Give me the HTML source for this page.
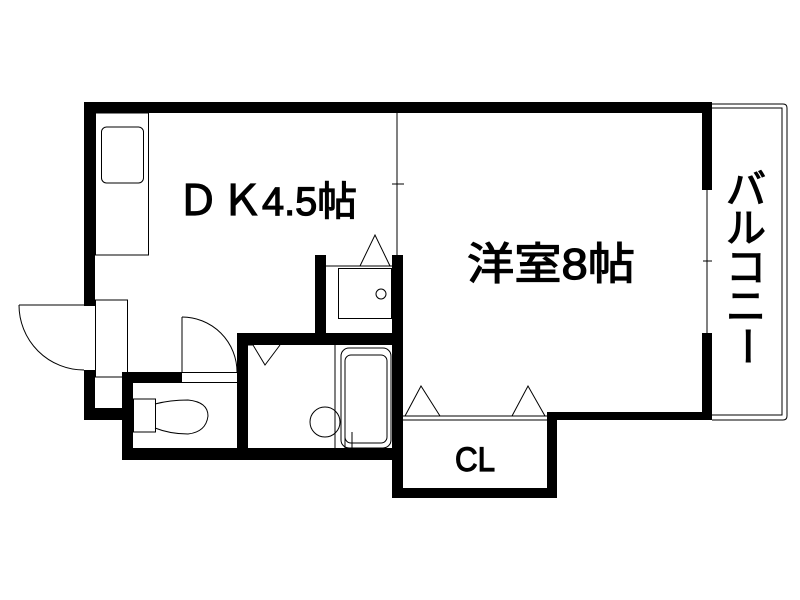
<!DOCTYPE html>
<html><head><meta charset="utf-8"><style>
html,body{margin:0;padding:0;background:#fff;}
svg{display:block;}
text{font-family:"Liberation Sans","Noto Sans CJK JP",sans-serif;fill:#000;stroke:#000;stroke-width:1.2;}
</style></head><body>
<svg width="800" height="600" viewBox="0 0 800 600" xmlns="http://www.w3.org/2000/svg">
<g fill="#000">
<rect x="84" y="102" width="628" height="11"/>
<rect x="84" y="102" width="11" height="204"/>
<rect x="84" y="370" width="11" height="50"/>
<rect x="84" y="408" width="49" height="12"/>
<rect x="122" y="372" width="11" height="88"/>
<rect x="122" y="372" width="60" height="11"/>
<rect x="122" y="448" width="281" height="12"/>
<rect x="237" y="333" width="11" height="127"/>
<rect x="237" y="333" width="166" height="12"/>
<rect x="315" y="255" width="11" height="90"/>
<rect x="392" y="255" width="11" height="243"/>
<rect x="702" y="102" width="10" height="88"/>
<rect x="702" y="333" width="10" height="87"/>
<rect x="547" y="412" width="165" height="8"/>
<rect x="392" y="488" width="165" height="10"/>
<rect x="547" y="412" width="10" height="86"/>
</g>
<g fill="none" stroke="#000" stroke-width="1">
<path d="M712 104 H783 Q787 104 787 108 V416 Q787 420 783 420 H712"/>
<path d="M712 108 H782 V415 H712"/>
<line x1="707" y1="190" x2="707" y2="333"/>
<line x1="703" y1="261" x2="712" y2="261"/>
<line x1="397" y1="113" x2="397" y2="255"/>
<line x1="392" y1="184" x2="404" y2="184"/>
<rect x="95.5" y="113" width="53" height="142"/>
<rect x="101.5" y="127" width="42" height="56" rx="5"/>
<line x1="19" y1="305" x2="84" y2="305"/>
<path d="M19 305 A65 65 0 0 0 84 370"/>
<rect x="95.5" y="300" width="32" height="77"/>
<line x1="95" y1="377" x2="122" y2="377"/>
<line x1="182" y1="317" x2="182" y2="372"/>
<path d="M182 317 A55 55 0 0 1 237 372"/>
<line x1="182" y1="372.5" x2="237" y2="372.5"/>
<line x1="182" y1="382.5" x2="237" y2="382.5"/>
<rect x="133.5" y="399" width="22" height="33"/>
<path d="M155 404 Q170 400 188 400 Q208 402 208 416 Q206 432 188 434 Q170 434 155 428"/>
<path d="M248 345 L253 345 L265 365 L280 345"/>
<line x1="335" y1="345" x2="335" y2="448"/>
<rect x="341" y="348" width="50" height="100" rx="8"/>
<rect x="345" y="355" width="42" height="88" rx="6"/>
<circle cx="325" cy="422" r="15"/>
<line x1="345" y1="432" x2="345" y2="448"/>
<line x1="352" y1="432" x2="352" y2="448"/>
<line x1="326" y1="266" x2="392" y2="266"/>
<rect x="338.5" y="268.5" width="53" height="50"/>
<circle cx="381" cy="294" r="5"/>
<path d="M360 266 L375 235 L390 266"/>
<line x1="403" y1="416" x2="547" y2="416"/>
<line x1="403" y1="420" x2="547" y2="420"/>
<path d="M405 416 L421 386 L440 416"/>
<path d="M512 416 L528 386 L545 416"/>
</g>
<text x="177" y="215" font-size="42">Ｄ</text>
<text x="221" y="215" font-size="42">Ｋ</text>
<text x="262" y="215" font-size="40" textLength="95" lengthAdjust="spacingAndGlyphs">4.5帖</text>
<text x="467" y="279" font-size="44" textLength="168" lengthAdjust="spacingAndGlyphs">洋室8帖</text>
<text x="726" y="203" font-size="40">バ</text>
<text x="726" y="242" font-size="40">ル</text>
<text x="726" y="281" font-size="40">コ</text>
<text x="726" y="320" font-size="40">ニ</text>
<text x="726" y="359" font-size="40" transform="rotate(90 746 346)">ー</text>
<text x="455" y="471" font-size="34" textLength="40" lengthAdjust="spacingAndGlyphs">CL</text>
</svg>
</body></html>
